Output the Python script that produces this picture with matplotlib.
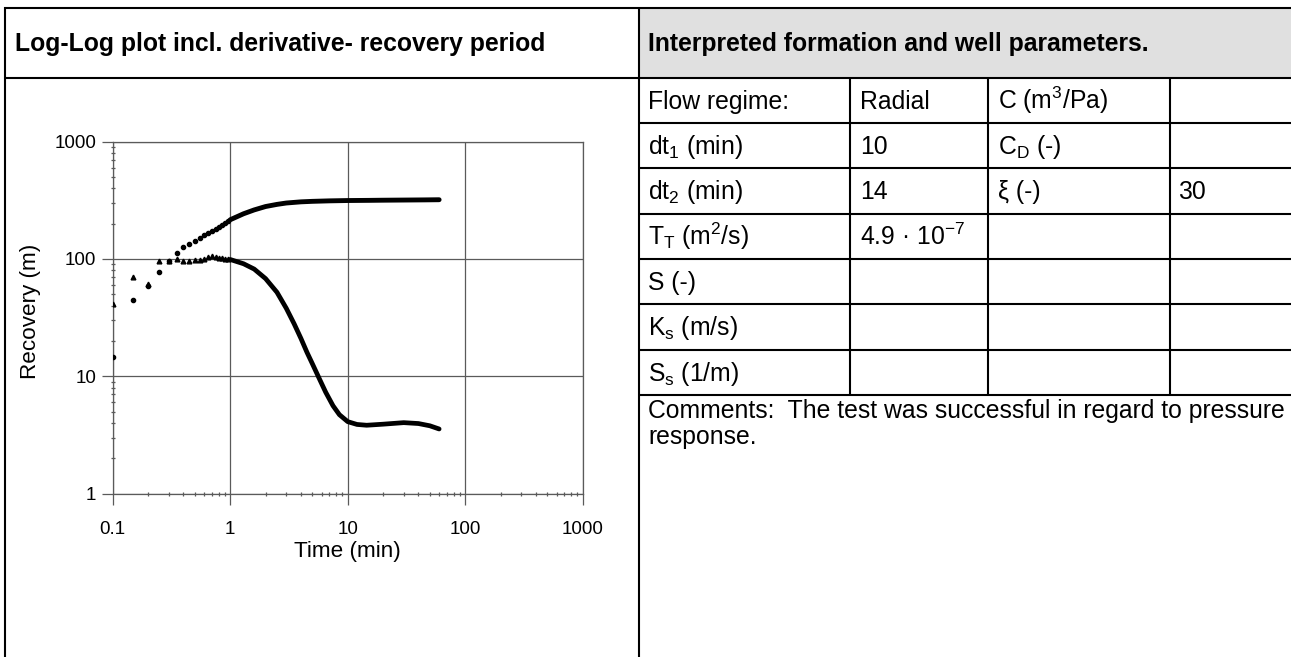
import matplotlib
matplotlib.use('Agg')
import matplotlib.pyplot as plt
from matplotlib.lines import Line2D
from matplotlib.patches import Rectangle
from matplotlib.ticker import FixedLocator, LogLocator, NullFormatter

plt.rcParams['font.family'] = ['Liberation Sans', 'DejaVu Sans']
plt.rcParams['mathtext.default'] = 'regular'

# ---------------- data ----------------
# early, individually visible recovery points (circles)
rec_t_pts = [0.1, 0.15, 0.2, 0.25, 0.3, 0.35, 0.4, 0.45, 0.5, 0.55, 0.6, 0.65,
             0.7, 0.75, 0.8, 0.85, 0.9, 0.95]
rec_pts = [14.6, 45, 58.5, 78, 96, 112, 126, 134, 142, 151, 159, 166,
           173, 180, 188, 195, 202, 209]
# dense part of the recovery (points merge into a thick band)
rec_t_dense = [1.0, 1.3, 1.6, 2.0, 2.5, 3.0, 4.0, 5.0, 7.0, 10, 15, 20, 30, 45, 60]
rec_dense = [216, 243, 262, 280, 292, 300, 307, 310, 313, 315, 316, 317, 318, 319, 320]

# early, individually visible derivative points (triangles)
der_t_pts = [0.1, 0.15, 0.2, 0.25, 0.3, 0.35, 0.4, 0.45, 0.5, 0.55, 0.6, 0.65,
             0.7, 0.75, 0.8, 0.85, 0.9, 0.95]
der_pts = [41, 70, 61, 96, 97, 100, 97, 96, 98, 98, 100, 103,
           105, 104, 102, 101, 100, 99]
# dense part of the derivative
der_t_dense = [1.0, 1.3, 1.6, 2.0, 2.5, 3.0, 3.5, 4.0, 4.5, 5.0, 5.8, 6.5, 7.5,
               8.5, 10, 12, 14.5, 20, 30, 40, 50, 60]
der_dense = [99, 91, 82, 68, 52, 38, 28, 21, 16, 12.8, 9.3, 7.3, 5.6,
             4.7, 4.1, 3.88, 3.82, 3.9, 4.02, 3.95, 3.78, 3.55]

x_ticks = [0.1, 1, 10, 100, 1000]
x_ticklabels = ['0.1', '1', '10', '100', '1000']
y_ticks = [1, 10, 100, 1000]
y_ticklabels = ['1', '10', '100', '1000']

left_header = 'Log-Log plot incl. derivative- recovery period'
right_header = 'Interpreted formation and well parameters.'
col1 = ['Flow regime:', 'dt$_1$ (min)', 'dt$_2$ (min)', 'T$_T$ (m$^2$/s)',
        'S (-)', 'K$_s$ (m/s)', 'S$_s$ (1/m)']
col2 = ['Radial', '10', '14', '4.9 · 10$^{-7}$', '', '', '']
col3 = ['C (m$^3$/Pa)', 'C$_D$ (-)', 'ξ (-)', '', '', '', '']
col4 = ['', '', '30', '', '', '', '']
comments = ['Comments:  The test was successful in regard to pressure', 'response.']

# ---------------- figure ----------------
W, H = 1291, 657
fig = plt.figure(figsize=(W / 100, H / 100), dpi=100)
fig.patch.set_facecolor('white')


def fx(x):
    return x / W


def fy(y):
    return 1 - y / H


def line(x0, y0, x1, y1, lw=1.5, color='black'):
    fig.add_artist(Line2D([fx(x0), fx(x1)], [fy(y0), fy(y1)],
                          transform=fig.transFigure, color=color, lw=lw,
                          solid_capstyle='butt'))


# header background (right)
fig.add_artist(Rectangle((fx(640), fy(77)), fx(W) - fx(640), fy(8) - fy(77),
                         transform=fig.transFigure, facecolor='#e0e0e0',
                         edgecolor='none', zorder=0))

# table grid
top_y = 7.5
head_y = 77.7
row_lines = [123.0, 168.3, 213.6, 258.9, 304.2, 349.5, 394.8]
col_x = [639.3, 850.0, 988.0, 1170.0]

line(4, top_y, W, top_y)
line(4, head_y, W, head_y)
line(5, top_y - 0.7, 5, H)
line(col_x[0], top_y - 0.7, col_x[0], H)
for y in row_lines:
    line(col_x[0], y, W, y)
for x in col_x[1:]:
    line(x, head_y, x, row_lines[-1])

FS = 17.8
fig.text(fx(15), fy(51), left_header, fontsize=FS, fontweight='bold', va='baseline')
fig.text(fx(648), fy(51), right_header, fontsize=FS, fontweight='bold', va='baseline')

row_top = [head_y] + row_lines[:-1]
for i in range(len(col1)):
    yc = (row_top[i] + row_lines[i]) / 2 + 8.5
    for cx, txt, pad in zip(col_x, (col1[i], col2[i], col3[i], col4[i]), (8.5, 10, 10, 8)):
        if txt:
            fig.text(fx(cx + pad), fy(yc), txt, fontsize=FS, va='baseline')

fig.text(fx(648), fy(418), comments[0], fontsize=FS, va='baseline')
fig.text(fx(648), fy(444), comments[1], fontsize=FS, va='baseline')

# ---------------- log-log plot ----------------
ax_l, ax_r, ax_t, ax_b = 112.7, 582.7, 141.7, 493.5
ax = fig.add_axes([fx(ax_l), fy(ax_b), fx(ax_r) - fx(ax_l), fy(ax_t) - fy(ax_b)])
ax.set_xscale('log')
ax.set_yscale('log')
ax.set_xlim(x_ticks[0], x_ticks[-1])
ax.set_ylim(y_ticks[0], y_ticks[-1])

ax.xaxis.set_major_locator(FixedLocator(x_ticks))
ax.set_xticklabels(x_ticklabels)
ax.yaxis.set_major_locator(FixedLocator(y_ticks))
ax.set_yticklabels(y_ticklabels)
ax.xaxis.set_minor_locator(LogLocator(base=10, subs=range(2, 10)))
ax.yaxis.set_minor_locator(LogLocator(base=10, subs=range(2, 10)))
ax.xaxis.set_minor_formatter(NullFormatter())
ax.yaxis.set_minor_formatter(NullFormatter())

gcol = '#5a5a5a'
ax.grid(which='major', color=gcol, lw=0.9)
ax.grid(which='minor', visible=False)
for s in ax.spines.values():
    s.set_color(gcol)
    s.set_linewidth(0.9)
ax.tick_params(which='major', direction='out', length=8, width=0.9, color=gcol,
               labelsize=13.6, labelcolor='black')
ax.tick_params(axis='x', which='major', pad=12)
ax.tick_params(axis='y', which='major', pad=3.8)
ax.tick_params(which='minor', direction='inout', length=3.5, width=0.9, color=gcol)

ax.set_xlabel('Time (min)', fontsize=16.2)
ax.set_ylabel('Recovery (m)', fontsize=16.2)
ax.xaxis.set_label_coords(0.5, -(540.5 - ax_b) / (ax_b - ax_t))
ax.yaxis.set_label_coords((40.7 - ax_l) / (ax_r - ax_l), (ax_b - 311.7) / (ax_b - ax_t))

# data
ax.plot(rec_t_dense, rec_dense, color='black', lw=3.5, solid_capstyle='round',
        solid_joinstyle='round', zorder=3)
ax.plot(der_t_dense, der_dense, color='black', lw=3.4, solid_capstyle='round',
        solid_joinstyle='round', zorder=3)
ax.plot(rec_t_pts, rec_pts, linestyle='none', marker='o', ms=3.0,
        color='black', zorder=4)
ax.plot(der_t_pts, der_pts, linestyle='none', marker='^', ms=3.4,
        color='black', zorder=4)

fig.savefig('out.png', dpi=100, facecolor='white')
